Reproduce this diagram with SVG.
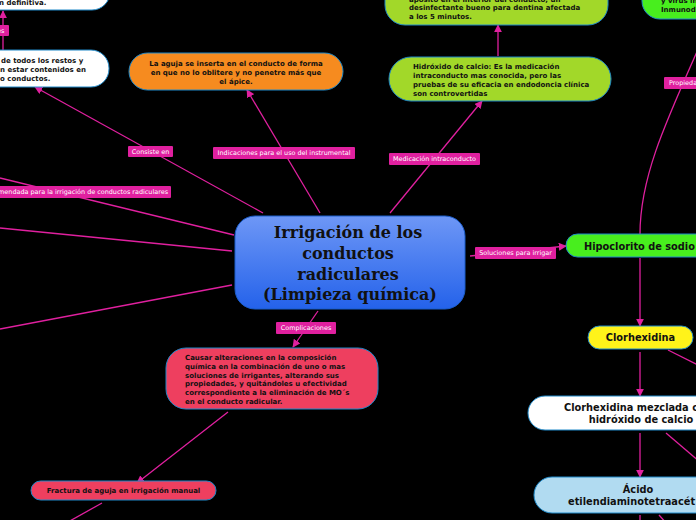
<svg xmlns="http://www.w3.org/2000/svg" width="696" height="520" viewBox="0 0 696 520">
<defs>
<linearGradient id="gBlue" x1="0" y1="0" x2="0" y2="1">
<stop offset="0" stop-color="#6e97f6"/>
<stop offset="1" stop-color="#2462ea"/>
</linearGradient>
<marker id="arr" viewBox="0 0 10 10" refX="9" refY="5" markerWidth="8" markerHeight="8" markerUnits="userSpaceOnUse" orient="auto">
<path d="M0,0 L10,5 L0,10 z" fill="#e0209f"/>
</marker>
</defs>
<style>
.bg{fill:#000}
.c{stroke:#e0209f;stroke-width:1.3;fill:none}
.ca{stroke:#e0209f;stroke-width:1.3;fill:none;marker-end:url(#arr)}
.lb{fill:#e0209f}
.lt{font-family:"DejaVu Sans",sans-serif;font-size:6.45px;fill:#fff}
.n{stroke:#1e88c8;stroke-width:1}
.t{font-family:"DejaVu Sans",sans-serif;font-weight:bold;font-size:7px;fill:#111}
.tb{font-family:"DejaVu Sans",sans-serif;font-weight:bold;font-size:9.8px;fill:#111}
.title{font-family:"DejaVu Serif",serif;font-weight:bold;font-size:16px;fill:#111}
</style>
<rect class="bg" x="0" y="0" width="696" height="520"/>

<g id="connectors">
<path class="ca" d="M263,213 L35,87"/>
<path class="ca" d="M320,213 L247,90"/>
<path class="ca" d="M390,213 L482,101"/>
<path class="ca" d="M498,56 L498,25"/>
<path class="ca" d="M3,50 L3,11"/>
<path class="c" d="M234,235 L0,178"/>
<path class="c" d="M232,251 L0,228"/>
<path class="c" d="M232,285 L0,329"/>
<path class="ca" d="M470,256 L566,246"/>
<path class="c" d="M640,234 C640,180 662,130 700,45"/>
<path class="ca" d="M640,258 L640,326"/>
<path class="c" d="M668,350 L700,366"/>
<path class="ca" d="M640,352 L640,396"/>
<path class="c" d="M666,433 L700,462"/>
<path class="ca" d="M640,433 L640,477"/>
<path class="c" d="M640,515 L640,524"/>
<path class="c" d="M659,515 L667,524"/>
<path class="ca" d="M318,311 L293,347"/>
<path class="ca" d="M228,412 L137,483"/>
<path class="c" d="M102,503 L68,522"/>
</g>

<g id="labels">
<rect class="lb" x="-10" y="25" width="19" height="11" rx="1"/>
<text class="lt" x="-3" y="32.8">es</text>
<rect class="lb" x="128" y="146" width="45" height="11" rx="1"/>
<text class="lt" x="150.5" y="153.8" text-anchor="middle">Consiste en</text>
<rect class="lb" x="213" y="147" width="142" height="12" rx="1"/>
<text class="lt" x="284" y="155.3" text-anchor="middle">Indicaciones para el uso del instrumental</text>
<rect class="lb" x="389" y="153" width="91" height="12" rx="1"/>
<text class="lt" x="434.5" y="161.3" text-anchor="middle">Medicación intraconducto</text>
<rect class="lb" x="-60" y="186" width="231" height="12" rx="1"/>
<text class="lt" x="168" y="194.3" text-anchor="end">mendada para la irrigación de conductos radiculares</text>
<rect class="lb" x="475" y="247" width="81" height="12" rx="1"/>
<text class="lt" x="515.5" y="255.3" text-anchor="middle">Soluciones para irrigar</text>
<rect class="lb" x="276" y="322" width="60" height="12" rx="1"/>
<text class="lt" x="306" y="330.3" text-anchor="middle">Complicaciones</text>
<rect class="lb" x="664" y="77" width="40" height="12" rx="1"/>
<text class="lt" x="669" y="85.3">Propiedades</text>
</g>

<g id="central">
<rect x="235" y="216" width="230" height="93" rx="20" fill="url(#gBlue)" stroke="#1a5cc8" stroke-width="1"/>
<text class="title" x="348" y="238" text-anchor="middle">Irrigación de los</text>
<text class="title" x="348" y="259" text-anchor="middle">conductos</text>
<text class="title" x="348" y="279.5" text-anchor="middle">radiculares</text>
<text class="title" x="350" y="300" text-anchor="middle">(Limpieza química)</text>
</g>

<g id="node-definitiva">
<rect class="n" x="-40" y="-30" width="150" height="40" rx="18" fill="#fff"/>
<text class="t" x="-1" y="4.5">n definitiva.</text>
</g>

<g id="node-restos">
<rect class="n" x="-40" y="50" width="149" height="37" rx="18" fill="#fff"/>
<text class="t" x="1" y="63">de todos los restos y</text>
<text class="t" x="0" y="72">n estar contenidos en</text>
<text class="t" x="0" y="80.5">o conductos.</text>
</g>

<g id="node-aguja">
<rect class="n" x="129" y="53" width="214" height="37" rx="18.5" fill="#f68b1f"/>
<text class="t" x="236" y="65.5" text-anchor="middle">La aguja se inserta en el conducto de forma</text>
<text class="t" x="236" y="74.5" text-anchor="middle">en que no lo oblitere y no penetre más que</text>
<text class="t" x="236" y="83.5" text-anchor="middle">el ápice.</text>
</g>

<g id="node-aposito">
<rect class="n" x="385" y="-30" width="223" height="55" rx="20" fill="#a2d829"/>
<text class="t" x="409" y="1.5">apósito en el interior del conducto, un</text>
<text class="t" x="409" y="10.3">desinfectante bueno para dentina afectada</text>
<text class="t" x="409" y="19">a los 5 minutos.</text>
</g>

<g id="node-hidroxido">
<rect class="n" x="389" y="57" width="222" height="44" rx="22" fill="#a2d829"/>
<text class="t" x="413" y="68.8">Hidróxido de calcio: Es la medicación</text>
<text class="t" x="413" y="77.8">intraconducto mas conocida, pero las</text>
<text class="t" x="413" y="86.8">pruebas de su eficacia en endodoncia clínica</text>
<text class="t" x="413" y="95.5">son controvertidas</text>
</g>

<g id="node-virus">
<rect class="n" x="642" y="-30" width="90" height="49" rx="18" fill="#48ee1e"/>
<text class="t" x="661" y="3">y virus in</text>
<text class="t" x="661" y="12">Inmunod</text>
</g>

<g id="node-hipoclorito">
<rect class="n" x="566" y="234" width="150" height="23" rx="11.5" fill="#48ee1e"/>
<text class="tb" x="584" y="249.5">Hipoclorito de sodio</text>
</g>

<g id="node-clorhexidina">
<rect class="n" x="588" y="326" width="105" height="23" rx="11.5" fill="#fff31a"/>
<text class="tb" x="640.5" y="341" text-anchor="middle">Clorhexidina</text>
</g>

<g id="node-clorhexidina-calcio">
<rect class="n" x="528" y="396" width="190" height="34" rx="17" fill="#fff"/>
<text class="tb" x="564" y="411">Clorhexidina mezclada c</text>
<text class="tb" x="641" y="423" text-anchor="middle">hidróxido de calcio</text>
</g>

<g id="node-edta">
<rect class="n" x="534" y="477" width="190" height="36" rx="18" fill="#b1dbf1"/>
<text class="tb" x="638" y="493" text-anchor="middle">Ácido</text>
<text class="tb" x="568" y="505">etilendiaminotetraacét</text>
</g>

<g id="node-alteraciones">
<rect class="n" x="166" y="348" width="212" height="61" rx="20" fill="#ee3f5f"/>
<text class="t" x="185" y="360">Causar alteraciones en la composición</text>
<text class="t" x="185" y="368.8">química en la combinación de uno o mas</text>
<text class="t" x="185" y="377.6">soluciones de irrigantes, alterando sus</text>
<text class="t" x="185" y="386.4">propiedades, y quitándoles u efectividad</text>
<text class="t" x="185" y="395.2">correspondiente a la eliminación de MO´s</text>
<text class="t" x="185" y="404">en el conducto radicular.</text>
</g>

<g id="node-fractura">
<rect class="n" x="31" y="481" width="185" height="19" rx="9.5" fill="#ee3f5f"/>
<text class="t" x="123.5" y="493.3" text-anchor="middle">Fractura de aguja en irrigación manual</text>
</g>
</svg>
